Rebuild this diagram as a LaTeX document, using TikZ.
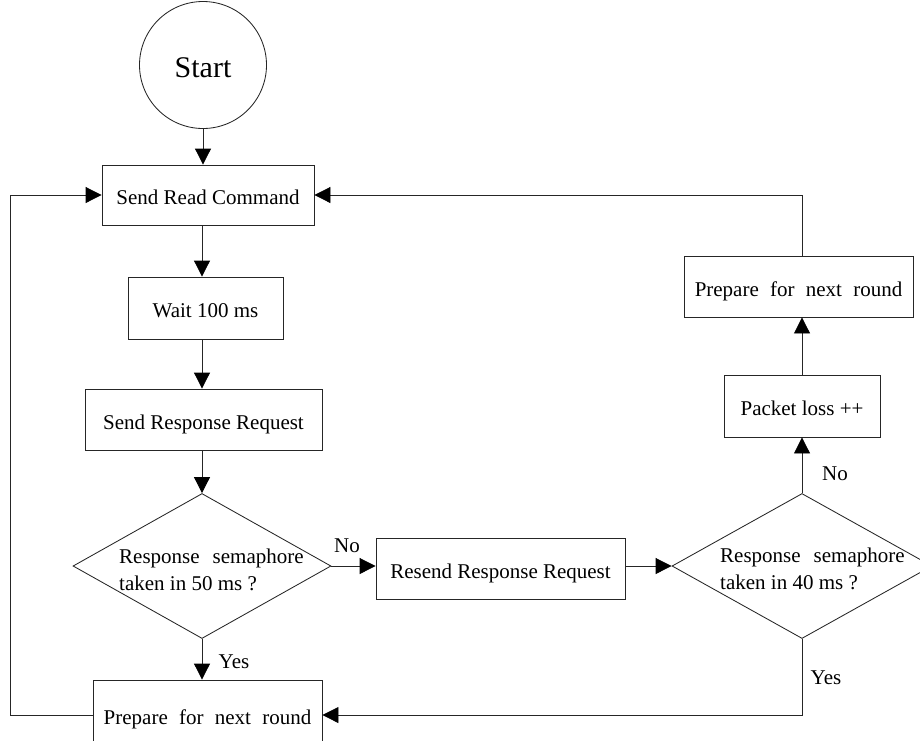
\documentclass[tikz,border=0pt]{standalone}
\usepackage{fontspec}
\setmainfont{Liberation Serif}
\usetikzlibrary{arrows.meta,shapes.geometric}
% wider word gap used in the justified captions
\newcommand\wgap{\hspace{11.25pt}}
\begin{document}
\begin{tikzpicture}[x=1pt,y=-1pt,
  every node/.style={font=\fontsize{21}{27}\selectfont},
  line/.style={draw=black!85,line width=0.85pt},
  arr/.style={line,-{Triangle[length=16pt,width=16pt,color=black,fill=black]}},
  procbox/.style={line,rectangle,inner sep=0pt,text height=19pt,text depth=0pt},
  decision/.style={line,diamond,inner sep=0pt,minimum width=#1,minimum height=145pt},
  tag/.style={inner sep=0pt}
]
\useasboundingbox (0,0) rectangle (920,740);
\clip (0,0) rectangle (920,740);

% column of the main flow
\coordinate (col) at (202,0);
\coordinate (loopL) at (10,0);

\node[line,circle,inner sep=0pt,minimum size=127pt,
      font=\fontsize{30}{36}\selectfont,text height=24pt,text depth=0pt]
      (start) at (203,65) {Start};

\node[procbox,minimum width=212pt,minimum height=60pt] (src) at (208,195) {Send Read Command};
\node[procbox,minimum width=155pt,minimum height=62pt] (wait) at (205.5,308) {Wait 100 ms};
\node[procbox,minimum width=237pt,minimum height=61pt] (srr) at (203.5,419.5) {Send Response Request};
\node[decision=258pt] (d1) at (202,566) {};
\node[tag,align=left,anchor=west] (d1txt) at (119,570) {Response\hspace{13pt}semaphore\\taken in 50 ms ?};
\node[procbox,minimum width=229pt,minimum height=70pt] (bot) at (207.5,715)
      {Prepare\wgap for\wgap next\wgap round};

\node[procbox,minimum width=249pt,minimum height=61pt] (resend) at (500.5,568.5) {Resend Response Request};
\node[decision=260pt] (d2) at (802,566) {};
\node[tag,align=left,anchor=west] (d2txt) at (720,569) {Response\hspace{13pt}semaphore\\taken in 40 ms ?};

\node[procbox,minimum width=156pt,minimum height=62pt] (packet) at (802,406) {Packet loss ++};
\node[procbox,minimum width=229pt,minimum height=61pt] (prep) at (798.5,286.5)
      {Prepare\wgap for\wgap next\wgap round};

% branch labels
\node[tag] (no1) at (347,546) {No};
\node[tag] (yes1) at (234,662) {Yes};
\node[tag] (no2) at (835,474) {No};
\node[tag] (yes2) at (826,678) {Yes};

% connectors
\draw[arr] (start.south) -- (start.south |- src.north);
\draw[arr] (src.south -| col) -- (wait.north -| col);
\draw[arr] (wait.south -| col) -- (srr.north -| col);
\draw[arr] (srr.south -| col) -- (d1.north);
\draw[arr] (d1.south) -- (d1.south |- bot.north);
\draw[arr] (d1.east) -- (d1.east -| resend.west);
\draw[arr] (d2.west -| resend.east) -- (d2.west);
\draw[arr] (d2.north) -- (packet.south);
\draw[arr] (packet.north) -- (packet.north |- prep.south);
\draw[arr] (packet.north |- prep.north) |- (src.east);
\draw[arr] (d2.south) |- (bot.east);
\draw[arr] (bot.west) -- (bot.west -| loopL) -- (src.west -| loopL) -- (src.west);
\end{tikzpicture}
\end{document}
